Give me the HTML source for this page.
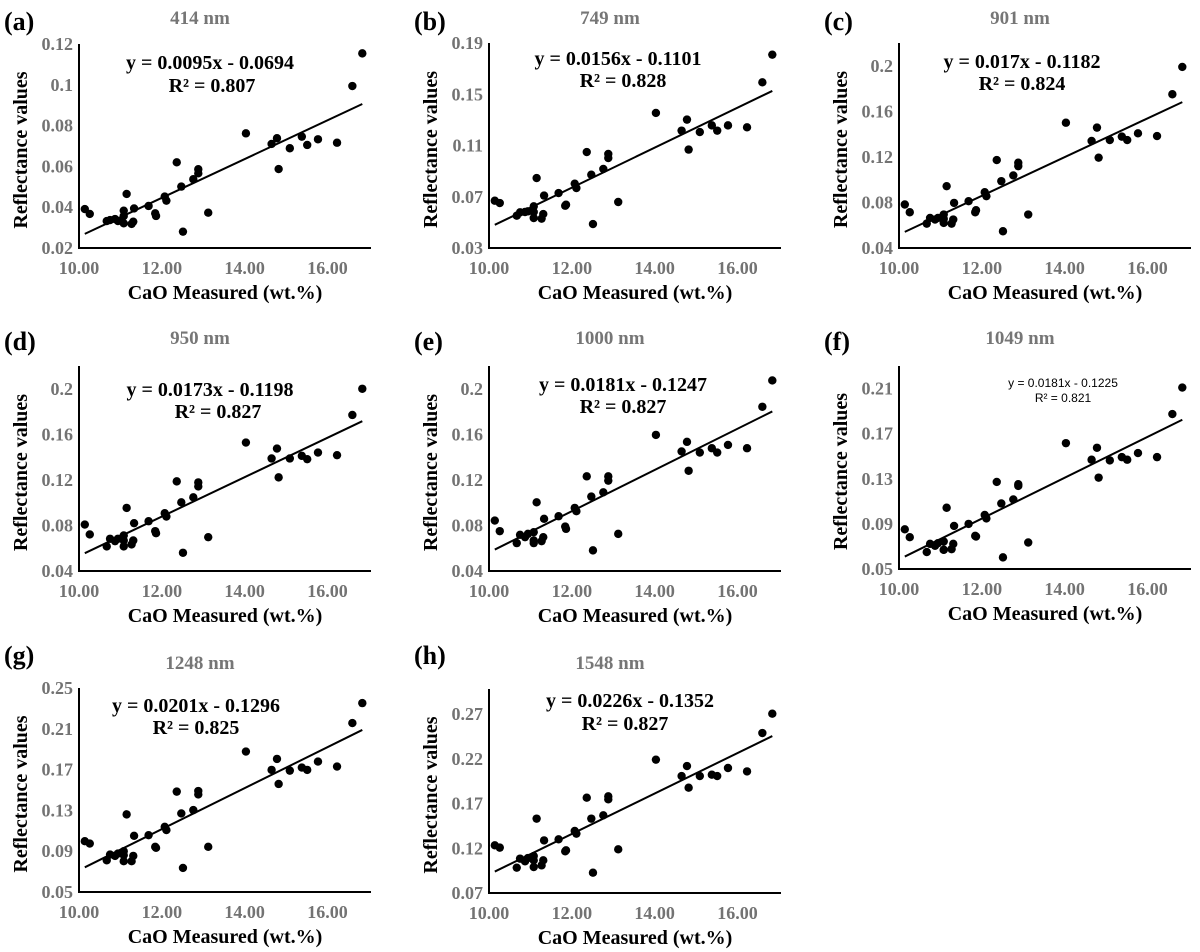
<!DOCTYPE html>
<html><head><meta charset="utf-8">
<style>
html,body{margin:0;padding:0;background:#fff;}
svg{display:block;}
text{font-family:"Liberation Serif",serif;}
</style></head>
<body>
<svg id="fig" width="1200" height="952" viewBox="0 0 1200 952" xmlns="http://www.w3.org/2000/svg"></svg>
<script>
// ---- shared data ----
const caoX = [10.14,10.26,10.67,10.75,10.87,10.94,11.08,11.08,11.08,11.15,11.27,11.31,11.33,11.68,11.84,11.86,12.07,12.11,12.36,12.47,12.51,12.76,12.88,12.88,13.12,14.03,14.65,14.78,14.82,15.09,15.38,15.51,15.77,16.23,16.60,16.84];
const xTicks = [10,12,14,16];
const xTickLabels = ["10.00","12.00","14.00","16.00"];

// ---- per-panel reflectance values ----
const y414 = [0.0391,0.0367,0.0332,0.0337,0.0342,0.0332,0.0383,0.0357,0.0321,0.0465,0.0318,0.0329,0.0394,0.0406,0.0370,0.0357,0.0452,0.0432,0.0620,0.0501,0.0280,0.0537,0.0586,0.0566,0.0373,0.0762,0.0710,0.0738,0.0587,0.0689,0.0746,0.0705,0.0733,0.0716,0.0994,0.1154];
const y749 = [0.0669,0.0651,0.0552,0.0578,0.0581,0.0586,0.0625,0.0581,0.0534,0.0846,0.0529,0.0565,0.0709,0.0729,0.0630,0.0638,0.0802,0.0768,0.1049,0.0872,0.0487,0.0917,0.1034,0.1002,0.0659,0.1354,0.1216,0.1302,0.1068,0.1205,0.1257,0.1216,0.1257,0.1242,0.1593,0.1809];
const y901 = [0.0782,0.0714,0.0614,0.0664,0.0650,0.0664,0.0694,0.0655,0.0620,0.0943,0.0614,0.0650,0.0796,0.0811,0.0714,0.0732,0.0890,0.0855,0.1172,0.0987,0.0547,0.1037,0.1149,0.1119,0.0694,0.1500,0.1340,0.1457,0.1193,0.1348,0.1378,0.1348,0.1407,0.1383,0.1750,0.1990];
const y950 = [0.0808,0.0721,0.0616,0.0683,0.0662,0.0683,0.0712,0.0668,0.0616,0.0954,0.0633,0.0668,0.0820,0.0837,0.0750,0.0732,0.0907,0.0878,0.1187,0.1003,0.0560,0.1047,0.1178,0.1143,0.0697,0.1528,0.1388,0.1475,0.1222,0.1388,0.1411,0.1382,0.1440,0.1417,0.1770,0.2000];
const y1000 = [0.0843,0.0750,0.0645,0.0718,0.0697,0.0726,0.0741,0.0668,0.0645,0.1003,0.0662,0.0697,0.0858,0.0881,0.0790,0.0770,0.0954,0.0925,0.1231,0.1053,0.0581,0.1091,0.1231,0.1193,0.0726,0.1595,0.1450,0.1534,0.1280,0.1440,0.1478,0.1440,0.1507,0.1478,0.1842,0.2073];
const y1049 = [0.0852,0.0782,0.0650,0.0723,0.0706,0.0729,0.0744,0.0670,0.0670,0.1043,0.0676,0.0723,0.0882,0.0900,0.0794,0.0788,0.0979,0.0949,0.1272,0.1081,0.0603,0.1117,0.1252,0.1237,0.0735,0.1616,0.1469,0.1575,0.1310,0.1463,0.1492,0.1469,0.1528,0.1492,0.1874,0.2109];
const y1248 = [0.0998,0.0975,0.0811,0.0867,0.0854,0.0877,0.0900,0.0861,0.0802,0.1261,0.0802,0.0854,0.1051,0.1057,0.0943,0.0933,0.1139,0.1107,0.1484,0.1270,0.0736,0.1303,0.1490,0.1457,0.0943,0.1877,0.1697,0.1805,0.1559,0.1690,0.1720,0.1697,0.1779,0.1730,0.2156,0.2352];
const y1548 = [0.1233,0.1207,0.0983,0.1084,0.1054,0.1091,0.1113,0.1065,0.0990,0.1531,0.1009,0.1065,0.1288,0.1300,0.1166,0.1177,0.1393,0.1363,0.1765,0.1531,0.0927,0.1568,0.1780,0.1747,0.1188,0.2190,0.2007,0.2119,0.1877,0.2007,0.2022,0.2007,0.2097,0.2059,0.2488,0.2704];

// regression coefficients
const slopes = [0.0095,0.0156,0.017,0.0173,0.0181,0.0181,0.0201,0.0226];
const intercepts = [-0.0694,-0.1101,-0.1182,-0.1198,-0.1247,-0.1225,-0.1296,-0.1352];
const r2Values = ["0.807","0.828","0.824","0.827","0.827","0.821","0.825","0.827"];
const eqTexts = ["y = 0.0095x - 0.0694","y = 0.0156x - 0.1101","y = 0.017x - 0.1182","y = 0.0173x - 0.1198","y = 0.0181x - 0.1247","y = 0.0181x - 0.1225","y = 0.0201x - 0.1296","y = 0.0226x - 0.1352"];
const wavelengths = ["414 nm","749 nm","901 nm","950 nm","1000 nm","1049 nm","1248 nm","1548 nm"];
const panelLetters = ["(a)","(b)","(c)","(d)","(e)","(f)","(g)","(h)"];
const yTicks = [
  [0.02,0.04,0.06,0.08,0.10,0.12],
  [0.03,0.07,0.11,0.15,0.19],
  [0.04,0.08,0.12,0.16,0.20],
  [0.04,0.08,0.12,0.16,0.20],
  [0.04,0.08,0.12,0.16,0.20],
  [0.05,0.09,0.13,0.17,0.21],
  [0.05,0.09,0.13,0.17,0.21,0.25],
  [0.07,0.12,0.17,0.22,0.27]
];
const yTickLabels = [
  ["0.02","0.04","0.06","0.08","0.1","0.12"],
  ["0.03","0.07","0.11","0.15","0.19"],
  ["0.04","0.08","0.12","0.16","0.2"],
  ["0.04","0.08","0.12","0.16","0.2"],
  ["0.04","0.08","0.12","0.16","0.2"],
  ["0.05","0.09","0.13","0.17","0.21"],
  ["0.05","0.09","0.13","0.17","0.21","0.25"],
  ["0.07","0.12","0.17","0.22","0.27"]
];
const yMins = [0.02,0.03,0.04,0.04,0.04,0.05,0.05,0.07];
const yMaxs = [0.12,0.19,0.22,0.22,0.22,0.23,0.25,0.298];
const allY = [y414,y749,y901,y950,y1000,y1049,y1248,y1548];

// ---- layout (pixels) ----
const layout = [
  {L:79, T:44, B:248, ox:0,   oy:0,   eq:[210,62], r2:[212,85]},
  {L:489,T:43, B:248, ox:410, oy:0,   eq:[618,58], r2:[623,80]},
  {L:899,T:43, B:248, ox:820, oy:0,   eq:[1022,61], r2:[1022,83]},
  {L:79, T:366,B:571, ox:0,   oy:320, eq:[210,389], r2:[218,411]},
  {L:489,T:366,B:571, ox:410, oy:320, eq:[623,384], r2:[623,406]},
  {L:899,T:366,B:569, ox:820, oy:320, eq:[1063,383], r2:[1063,398], small:true},
  {L:79, T:688,B:892, ox:0,   oy:634, eq:[196,705], r2:[196,727]},
  {L:489,T:689,B:893, ox:410, oy:634, eq:[630,700], r2:[625,723]}
];
const XMIN=10, XMAX=17.05, PW=292;
const NS="http://www.w3.org/2000/svg";
const svg=document.getElementById('fig');
function mk(tag,attrs,parent,txt){const e=document.createElementNS(NS,tag);for(const k in attrs)e.setAttribute(k,attrs[k]);if(txt!==undefined)e.textContent=txt;(parent||svg).appendChild(e);return e;}

layout.forEach((p,i)=>{
  const g=mk('g',{});
  
  
  const xs=v=>p.L+(v-XMIN)/(XMAX-XMIN)*PW;
  const ys=v=>p.B-(v-yMins[i])/(yMaxs[i]-yMins[i])*(p.B-p.T);
  const R=p.L+PW;
  let t;
  t=mk('text',{x:p.ox+4,y:p.oy+30,'font-size':26,'font-weight':'bold',fill:'#000'},g,panelLetters[i]);
  
  
  t=mk('text',{x:p.L+121,y:p.oy+(i>=6?35:24),'font-size':19,'font-weight':'bold',fill:'#767676','text-anchor':'middle'},g,wavelengths[i]);
  
  
  let a=mk('line',{x1:p.L,y1:p.T,x2:p.L,y2:p.B,stroke:'#000','stroke-width':2},g);
  
  
  a=mk('line',{x1:p.L-1,y1:p.B,x2:R,y2:p.B,stroke:'#000','stroke-width':2},g);
  
  
  yTicks[i].forEach((v,k)=>{
    const tl=mk('text',{x:p.L-6,y:ys(v)+6,'font-size':18,'font-weight':'bold',fill:'#737373','text-anchor':'end'},g,yTickLabels[i][k]);
    
    
  });
  xTicks.forEach((v,k)=>{
    const tl=mk('text',{x:xs(v),y:p.B+26,'font-size':18,'font-weight':'bold',fill:'#737373','text-anchor':'middle'},g,xTickLabels[k]);
    
    
  });
  t=mk('text',{x:p.L+146,y:p.B+51,'font-size':20,'font-weight':'bold',fill:'#000','text-anchor':'middle'},g,'CaO Measured (wt.%)');
  
  
  const cy=(p.T+p.B)/2+4, cx=p.L-52;
  t=mk('text',{x:cx,y:cy,'font-size':20,'font-weight':'bold',fill:'#000','text-anchor':'middle',transform:'rotate(-90 '+cx+' '+cy+')'},g,'Reflectance values');
  
  
  const x0=caoX[0], x1=caoX[caoX.length-1];
  const ln=mk('line',{x1:xs(x0),y1:ys(slopes[i]*x0+intercepts[i]),x2:xs(x1),y2:ys(slopes[i]*x1+intercepts[i]),stroke:'#000','stroke-width':2},g);
  
  
  allY[i].forEach((v,k)=>{
    const c=mk('circle',{cx:xs(caoX[k]),cy:ys(v),r:4.2,fill:'#000'},g);
    
    
  });
  if(p.small){
    t=mk('text',{x:p.eq[0],y:p.eq[1]+4,'font-size':12,fill:'#000','text-anchor':'middle',style:'font-family:"Liberation Sans",sans-serif'},g,eqTexts[i]);
    
    
    t=mk('text',{x:p.r2[0],y:p.r2[1]+4,'font-size':12,fill:'#000','text-anchor':'middle',style:'font-family:"Liberation Sans",sans-serif'},g,'R² = '+r2Values[i]);
    
    
  } else {
    t=mk('text',{x:p.eq[0],y:p.eq[1]+7,'font-size':20,'font-weight':'bold',fill:'#000','text-anchor':'middle'},g,eqTexts[i]);
    
    
    t=mk('text',{x:p.r2[0],y:p.r2[1]+7,'font-size':20,'font-weight':'bold',fill:'#000','text-anchor':'middle'},g,'R² = '+r2Values[i]);
    
    
  }
});
</script>
</body></html>
